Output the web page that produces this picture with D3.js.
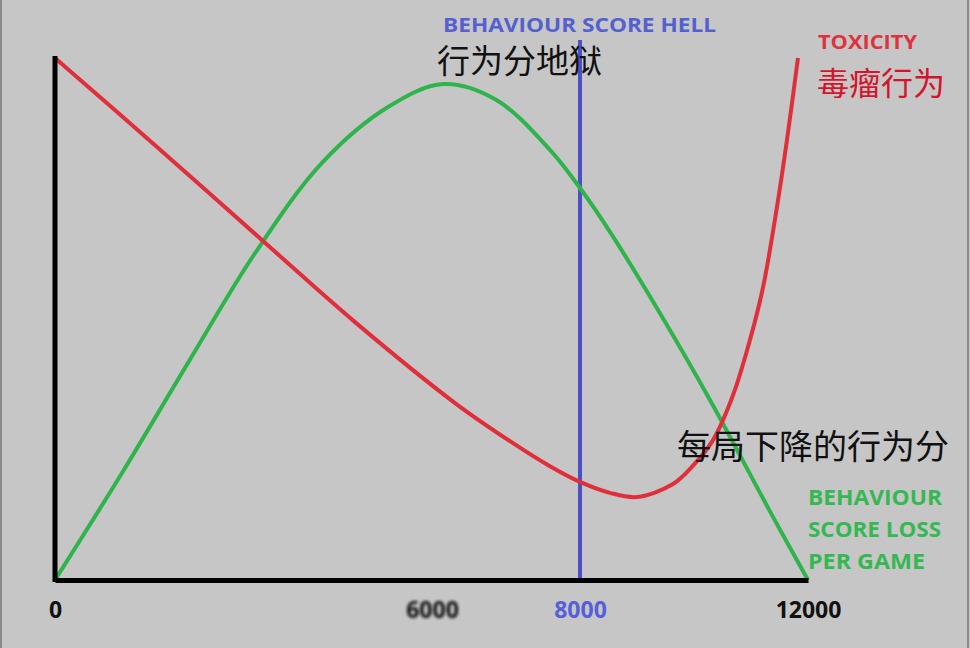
<!DOCTYPE html>
<html>
<head>
<meta charset="utf-8">
<script src="https://cdn.jsdelivr.net/npm/d3@7"></script>
<style>
  html, body { margin: 0; padding: 0; background: #c6c6c6; }
  svg { display: block; }
</style>
</head>
<body>
<svg id="chart"></svg>
<script>
// games played (x) vs relative level (y, 0-100)
const xTicks = [0, 6000, 8000, 12000];
const hellX = 8000;

const lossX = [0, 1066, 2117, 3183, 4249, 5300, 6150, 6865, 7594, 8000, 8526, 9403, 10280, 11385, 12000];
const lossY = [0, 20.5, 41.6, 62.6, 79.9, 90.6, 95.0, 92.0, 82.4, 75.1, 66.7, 51.1, 34.5, 12.1, 0];

const toxX = [0, 1592, 3342, 4775, 6311, 7054, 7594, 8000, 8526, 9000, 9631, 9982, 10333, 10684, 10982, 11210, 11456, 11631, 11824];
const toxY = [100, 83.3, 64.6, 49.4, 33.9, 26.6, 21.8, 18.8, 16.7, 15.9, 18.4, 21.9, 26.8, 35.4, 46.0, 56.0, 71.5, 84.3, 100];

const width = 970, height = 648;

const svg = d3.select("#chart")
    .attr("width", width)
    .attr("height", height);

svg.append("rect")
    .attr("x", 1).attr("y", -2)
    .attr("width", 967).attr("height", 652)
    .attr("fill", "#c6c6c6")
    .attr("stroke", "#8a8a8a")
    .attr("stroke-width", 2);

// the hand drawn axis is not to scale, so the scale is piecewise
let x = d3.scaleLinear()
    .domain([0, 6000, 8000, 12000])
    .range([55, 432, 580, 808]);
let y = d3.scaleLinear()
    .domain([0, 100])
    .range([580, 58]);

let line = d3.line()
    .x(d => x(d[0]))
    .y(d => y(d[1]))
    .curve(d3.curveCatmullRom.alpha(0.5));

const lossData = lossX.map((v, i) => [v, lossY[i]]);
const toxData = toxX.map((v, i) => [v, toxY[i]]);

// blur for the smudged tick label
svg.append("defs").append("filter")
    .attr("id", "smudge")
    .attr("x", "-20%").attr("y", "-20%").attr("width", "140%").attr("height", "140%")
    .append("feGaussianBlur")
    .attr("stdDeviation", "1.4");

// blue "hell" marker
svg.append("line")
    .attr("x1", x(hellX)).attr("x2", x(hellX))
    .attr("y1", 40).attr("y2", y(0))
    .attr("stroke", "#4b50c6")
    .attr("stroke-width", 4);

svg.append("path")
    .datum(lossData)
    .attr("d", line)
    .attr("fill", "none")
    .attr("stroke", "#2fb44c")
    .attr("stroke-width", 4);

svg.append("path")
    .datum(toxData)
    .attr("d", line)
    .attr("fill", "none")
    .attr("stroke", "#e02f3b")
    .attr("stroke-width", 4);

// axes
let xAxis = d3.axisBottom(x)
    .tickValues(xTicks)
    .tickSize(0)
    .tickPadding(22)
    .tickFormat(d3.format("d"));
let yAxis = d3.axisLeft(y).tickValues([]).tickSizeOuter(0);

let gx = svg.append("g")
    .attr("transform", "translate(0," + y(0) + ")")
    .call(xAxis);
gx.select(".domain").attr("stroke", "#000").attr("stroke-width", 5);
gx.selectAll("text")
    .attr("font-family", "'Open Sans', sans-serif")
    .attr("font-weight", "bold")
    .attr("font-size", 23)
    .attr("fill", d => d === hellX ? "#5560d8" : "#111")
    .attr("filter", d => d === 6000 ? "url(#smudge)" : null);

let gy = svg.append("g")
    .attr("transform", "translate(" + x(0) + ",0)")
    .call(yAxis);
gy.select(".domain").attr("stroke", "#000").attr("stroke-width", 5).attr("d", "M0," + (y(100) - 2) + "V" + (y(0) + 2));

// annotations
function label(txt, tx, ty, size, color, weight, len) {
    let t = svg.append("text")
        .attr("x", tx).attr("y", ty)
        .attr("fill", color)
        .attr("font-size", size)
        .attr("font-weight", weight || "normal")
        .attr("font-family", /[A-Z]/.test(txt) ? "'Open Sans', sans-serif" : "'Noto Sans CJK SC', sans-serif")
        .text(txt);
    if (len) t.attr("textLength", len).attr("lengthAdjust", "spacingAndGlyphs");
    return t;
}

label("BEHAVIOUR SCORE HELL", 443, 32, 19, "#5560d0", "bold", 273);
label("行为分地狱", 437, 73, 33, "#111");
label("TOXICITY", 818, 49, 19, "#e0323e", "bold", 99);
label("毒瘤行为", 817, 95, 32, "#d4142c");
label("每局下降的行为分", 677, 459, 34, "#111");
label("BEHAVIOUR", 808, 505, 22, "#35b852", "bold", 134);
label("SCORE LOSS", 808, 537, 22, "#35b852", "bold", 133);
label("PER GAME", 808, 569, 22, "#35b852", "bold", 117);
</script>
</body>
</html>
